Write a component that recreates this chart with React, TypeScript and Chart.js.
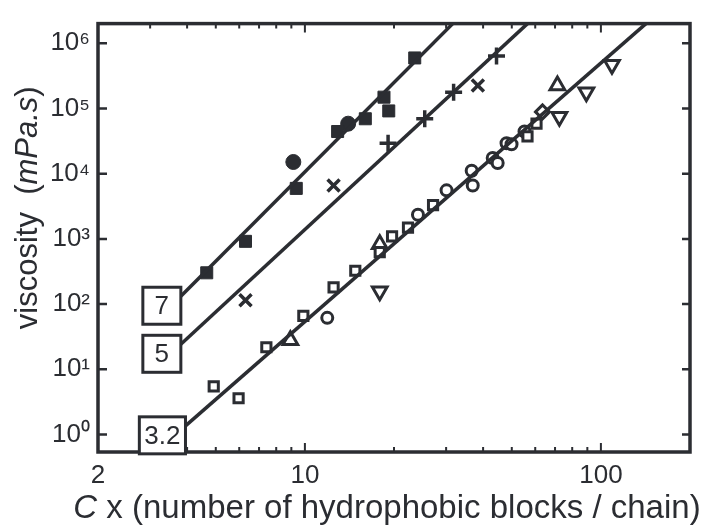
import React, { useEffect, useRef } from 'react';
import { Chart, registerables } from 'chart.js';

Chart.register(...registerables);

const INK = '#2b2d32';
const FONT = '"Liberation Sans", Arial, Helvetica, sans-serif';

// axes
const xMin = 2;
const xMax = 200;
const yMin = 0.54;
const yMax = 2.0e6;
const xTickValues = [2, 10, 100];
const xTickLabels = ['2', '10', '100'];
const yTickValues = [1, 10, 100, 1e3, 1e4, 1e5, 1e6];
const yTickLabels = ['10⁰', '10¹', '10²', '10³', '10⁴', '10⁵', '10⁶'];

// fitted power-law lines (start, end)
const line7 = [{ x: 3.81, y: 132 }, { x: 31.6, y: 2.0e6 }];
const line5 = [{ x: 3.81, y: 24.2 }, { x: 56.5, y: 2.0e6 }];
const line32 = [{ x: 3.95, y: 1.36 }, { x: 142, y: 2.0e6 }];
const lineLabels = ['7', '5', '3.2'];

// series "7"
const set7Squares = [
  { x: 4.66, y: 302 }, { x: 6.3, y: 917 }, { x: 9.35, y: 5950 }, { x: 12.9, y: 44300 },
  { x: 16.0, y: 69500 }, { x: 18.5, y: 149000 }, { x: 19.2, y: 91700 }, { x: 23.5, y: 595000 },
];
const set7Circles = [{ x: 9.14, y: 15100 }, { x: 14.0, y: 58400 }];

// series "5"
const set5Crosses = [{ x: 6.3, y: 115 }, { x: 12.5, y: 6600 }, { x: 38.4, y: 225000 }];
const set5Plus = [{ x: 19.1, y: 29200 }, { x: 25.4, y: 69500 }, { x: 31.8, y: 177000 }, { x: 44.4, y: 638000 }];

// series "3.2"
const set32Squares = [
  { x: 4.92, y: 5.46 }, { x: 5.97, y: 3.6 }, { x: 7.41, y: 21.8 }, { x: 9.88, y: 66 },
  { x: 12.5, y: 180 }, { x: 14.8, y: 325 }, { x: 17.9, y: 627 }, { x: 19.7, y: 1090 },
  { x: 22.3, y: 1490 }, { x: 27.1, y: 3300 }, { x: 56.5, y: 37300 }, { x: 60.6, y: 58400 },
];
const set32Circles = [
  { x: 11.9, y: 61.6 }, { x: 24.1, y: 2340 }, { x: 30.1, y: 5550 }, { x: 36.6, y: 11100 },
  { x: 36.9, y: 6600 }, { x: 43.1, y: 17400 }, { x: 44.8, y: 14600 }, { x: 48.0, y: 29200 },
  { x: 49.9, y: 28200 }, { x: 55.2, y: 44300 },
];
const set32Diamonds = [{ x: 63.5, y: 88600 }];
const set32TriUp = [{ x: 8.93, y: 27.8 }, { x: 17.9, y: 826 }, { x: 71.3, y: 225000 }];
const set32TriDown = [{ x: 17.9, y: 157 }, { x: 72.4, y: 74500 }, { x: 89.3, y: 177000 }, { x: 109, y: 467000 }];

const lineDs = (data: any[]) => ({
  data,
  showLine: true,
  borderColor: INK,
  borderWidth: 3.5,
  pointRadius: 0,
  fill: false,
});

const markerDs = (data: any[], style: string, radius: number, filled: boolean, rotation = 0) => ({
  data,
  showLine: false,
  pointStyle: style,
  pointRadius: radius,
  pointRotation: rotation,
  pointBorderColor: INK,
  pointBackgroundColor: filled ? INK : '#ffffff',
  pointBorderWidth: filled ? 1 : 3,
});

const frame = {
  id: 'frame',
  afterDraw(chart: any) {
    const { ctx, chartArea: ca, scales } = chart;
    const xs = scales.x;
    const ys = scales.y;
    ctx.save();
    ctx.strokeStyle = INK;
    ctx.lineCap = 'butt';
    // x minor/major ticks (inward, top and bottom)
    ctx.lineWidth = 2;
    for (let d = 0; d <= 2; d++) {
      for (let m = 1; m <= 9; m++) {
        const v = m * Math.pow(10, d);
        if (v <= xMin || v >= xMax) continue;
        const px = xs.getPixelForValue(v);
        const len = m === 1 ? 9 : 5;
        ctx.beginPath();
        ctx.moveTo(px, ca.bottom);
        ctx.lineTo(px, ca.bottom - len);
        ctx.moveTo(px, ca.top);
        ctx.lineTo(px, ca.top + len);
        ctx.stroke();
      }
    }
    // y major ticks (inward, left and right)
    ctx.lineWidth = 2.5;
    yTickValues.forEach((v) => {
      const py = ys.getPixelForValue(v);
      ctx.beginPath();
      ctx.moveTo(ca.left, py);
      ctx.lineTo(ca.left + 9, py);
      ctx.moveTo(ca.right, py);
      ctx.lineTo(ca.right - 8, py);
      ctx.stroke();
    });
    // frame
    ctx.lineWidth = 3.5;
    ctx.strokeRect(ca.left, ca.top, ca.right - ca.left, ca.bottom - ca.top);

    // line labels in boxes
    ctx.font = `26px ${FONT}`;
    ctx.textAlign = 'center';
    ctx.textBaseline = 'middle';
    [line7, line5, line32].forEach((ln, i) => {
      const px = xs.getPixelForValue(ln[0].x);
      const py = ys.getPixelForValue(ln[0].y);
      const tw = ctx.measureText(lineLabels[i]).width;
      const w = Math.max(38, tw + 10);
      const h = 37;
      const top = py - 9;
      ctx.fillStyle = '#ffffff';
      ctx.fillRect(px - w, top, w, h);
      ctx.lineWidth = 3;
      ctx.strokeRect(px - w, top, w, h);
      ctx.fillStyle = INK;
      ctx.fillText(lineLabels[i], px - w / 2, top + h / 2 + 1);
    });

    // x title with italic C
    const tFont = 33;
    ctx.textBaseline = 'alphabetic';
    ctx.textAlign = 'left';
    const partA = 'C';
    const partB = ' x (number of hydrophobic blocks / chain)';
    ctx.font = `italic ${tFont}px ${FONT}`;
    const wA = ctx.measureText(partA).width;
    ctx.font = `${tFont}px ${FONT}`;
    const wB = ctx.measureText(partB).width;
    const cx = (ca.left + ca.right) / 2 - 7;
    const sx = cx - (wA + wB) / 2;
    const by = ca.bottom + 66;
    ctx.font = `italic ${tFont}px ${FONT}`;
    ctx.fillText(partA, sx, by);
    ctx.font = `${tFont}px ${FONT}`;
    ctx.fillText(partB, sx + wA, by);

    // y title
    const yFont = 31;
    const parts = [
      { t: 'viscosity  (', it: false },
      { t: 'mPa.s', it: true },
      { t: ')', it: false },
    ];
    let total = 0;
    const widths = parts.map((p) => {
      ctx.font = `${p.it ? 'italic ' : ''}${yFont}px ${FONT}`;
      const w = ctx.measureText(p.t).width;
      total += w;
      return w;
    });
    ctx.translate(37, (ca.top + ca.bottom) / 2 - 30);
    ctx.rotate(-Math.PI / 2);
    let ox = -total / 2;
    parts.forEach((p, i) => {
      ctx.font = `${p.it ? 'italic ' : ''}${yFont}px ${FONT}`;
      ctx.fillText(p.t, ox, 0);
      ox += widths[i];
    });
    ctx.restore();
  },
};

export default function App() {
  const ref = useRef<HTMLCanvasElement>(null);
  useEffect(() => {
    document.body.style.margin = '0';
    const canvas = ref.current;
    if (!canvas) return;
    const chart = new Chart(canvas, {
      type: 'scatter',
      data: {
        datasets: [
          lineDs(line7),
          lineDs(line5),
          lineDs(line32),
          markerDs(set7Squares, 'rect', 8.5, true),
          markerDs(set7Circles, 'circle', 7.5, true),
          { ...markerDs(set5Crosses, 'crossRot', 8.5, false), pointBorderWidth: 3.5 },
          { ...markerDs(set5Plus, 'cross', 8.5, false), pointBorderWidth: 3.5 },
          markerDs(set32Squares, 'rect', 6.5, false),
          markerDs(set32Circles, 'circle', 5.5, false),
          markerDs(set32Diamonds, 'rectRot', 7, false),
          markerDs(set32TriUp, 'triangle', 8.5, false),
          markerDs(set32TriDown, 'triangle', 8.5, false, 180),
        ] as any,
      },
      options: {
        animation: false,
        responsive: false,
        maintainAspectRatio: false,
        layout: { padding: { top: 15, right: 12, left: 0, bottom: 0 } },
        plugins: { legend: { display: false }, tooltip: { enabled: false } },
        scales: {
          x: {
            type: 'logarithmic',
            position: 'bottom',
            min: xMin,
            max: xMax,
            afterBuildTicks: (s: any) => {
              s.ticks = xTickValues.map((v) => ({ value: v }));
            },
            afterFit: (s: any) => {
              s.height = 77;
            },
            ticks: {
              autoSkip: false,
              maxRotation: 0,
              padding: 8,
              color: INK,
              font: { family: FONT, size: 26 },
              callback: (_v: any, i: number) => xTickLabels[i],
            },
            grid: { display: false, drawTicks: false },
            border: { display: false },
          },
          y: {
            type: 'logarithmic',
            position: 'left',
            min: yMin,
            max: yMax,
            afterBuildTicks: (s: any) => {
              s.ticks = yTickValues.map((v) => ({ value: v }));
            },
            afterFit: (s: any) => {
              s.width = 98;
            },
            ticks: {
              autoSkip: false,
              padding: 8,
              color: INK,
              font: { family: FONT, size: 26 },
              callback: (_v: any, i: number) => yTickLabels[i],
            },
            grid: { display: false, drawTicks: false },
            border: { display: false },
          },
        },
      } as any,
      plugins: [frame],
    });
    return () => chart.destroy();
  }, []);
  return (
    <div style={{ width: 702, height: 529, background: '#ffffff' }}>
      <canvas ref={ref} width={702} height={529} style={{ display: 'block' }} />
    </div>
  );
}
